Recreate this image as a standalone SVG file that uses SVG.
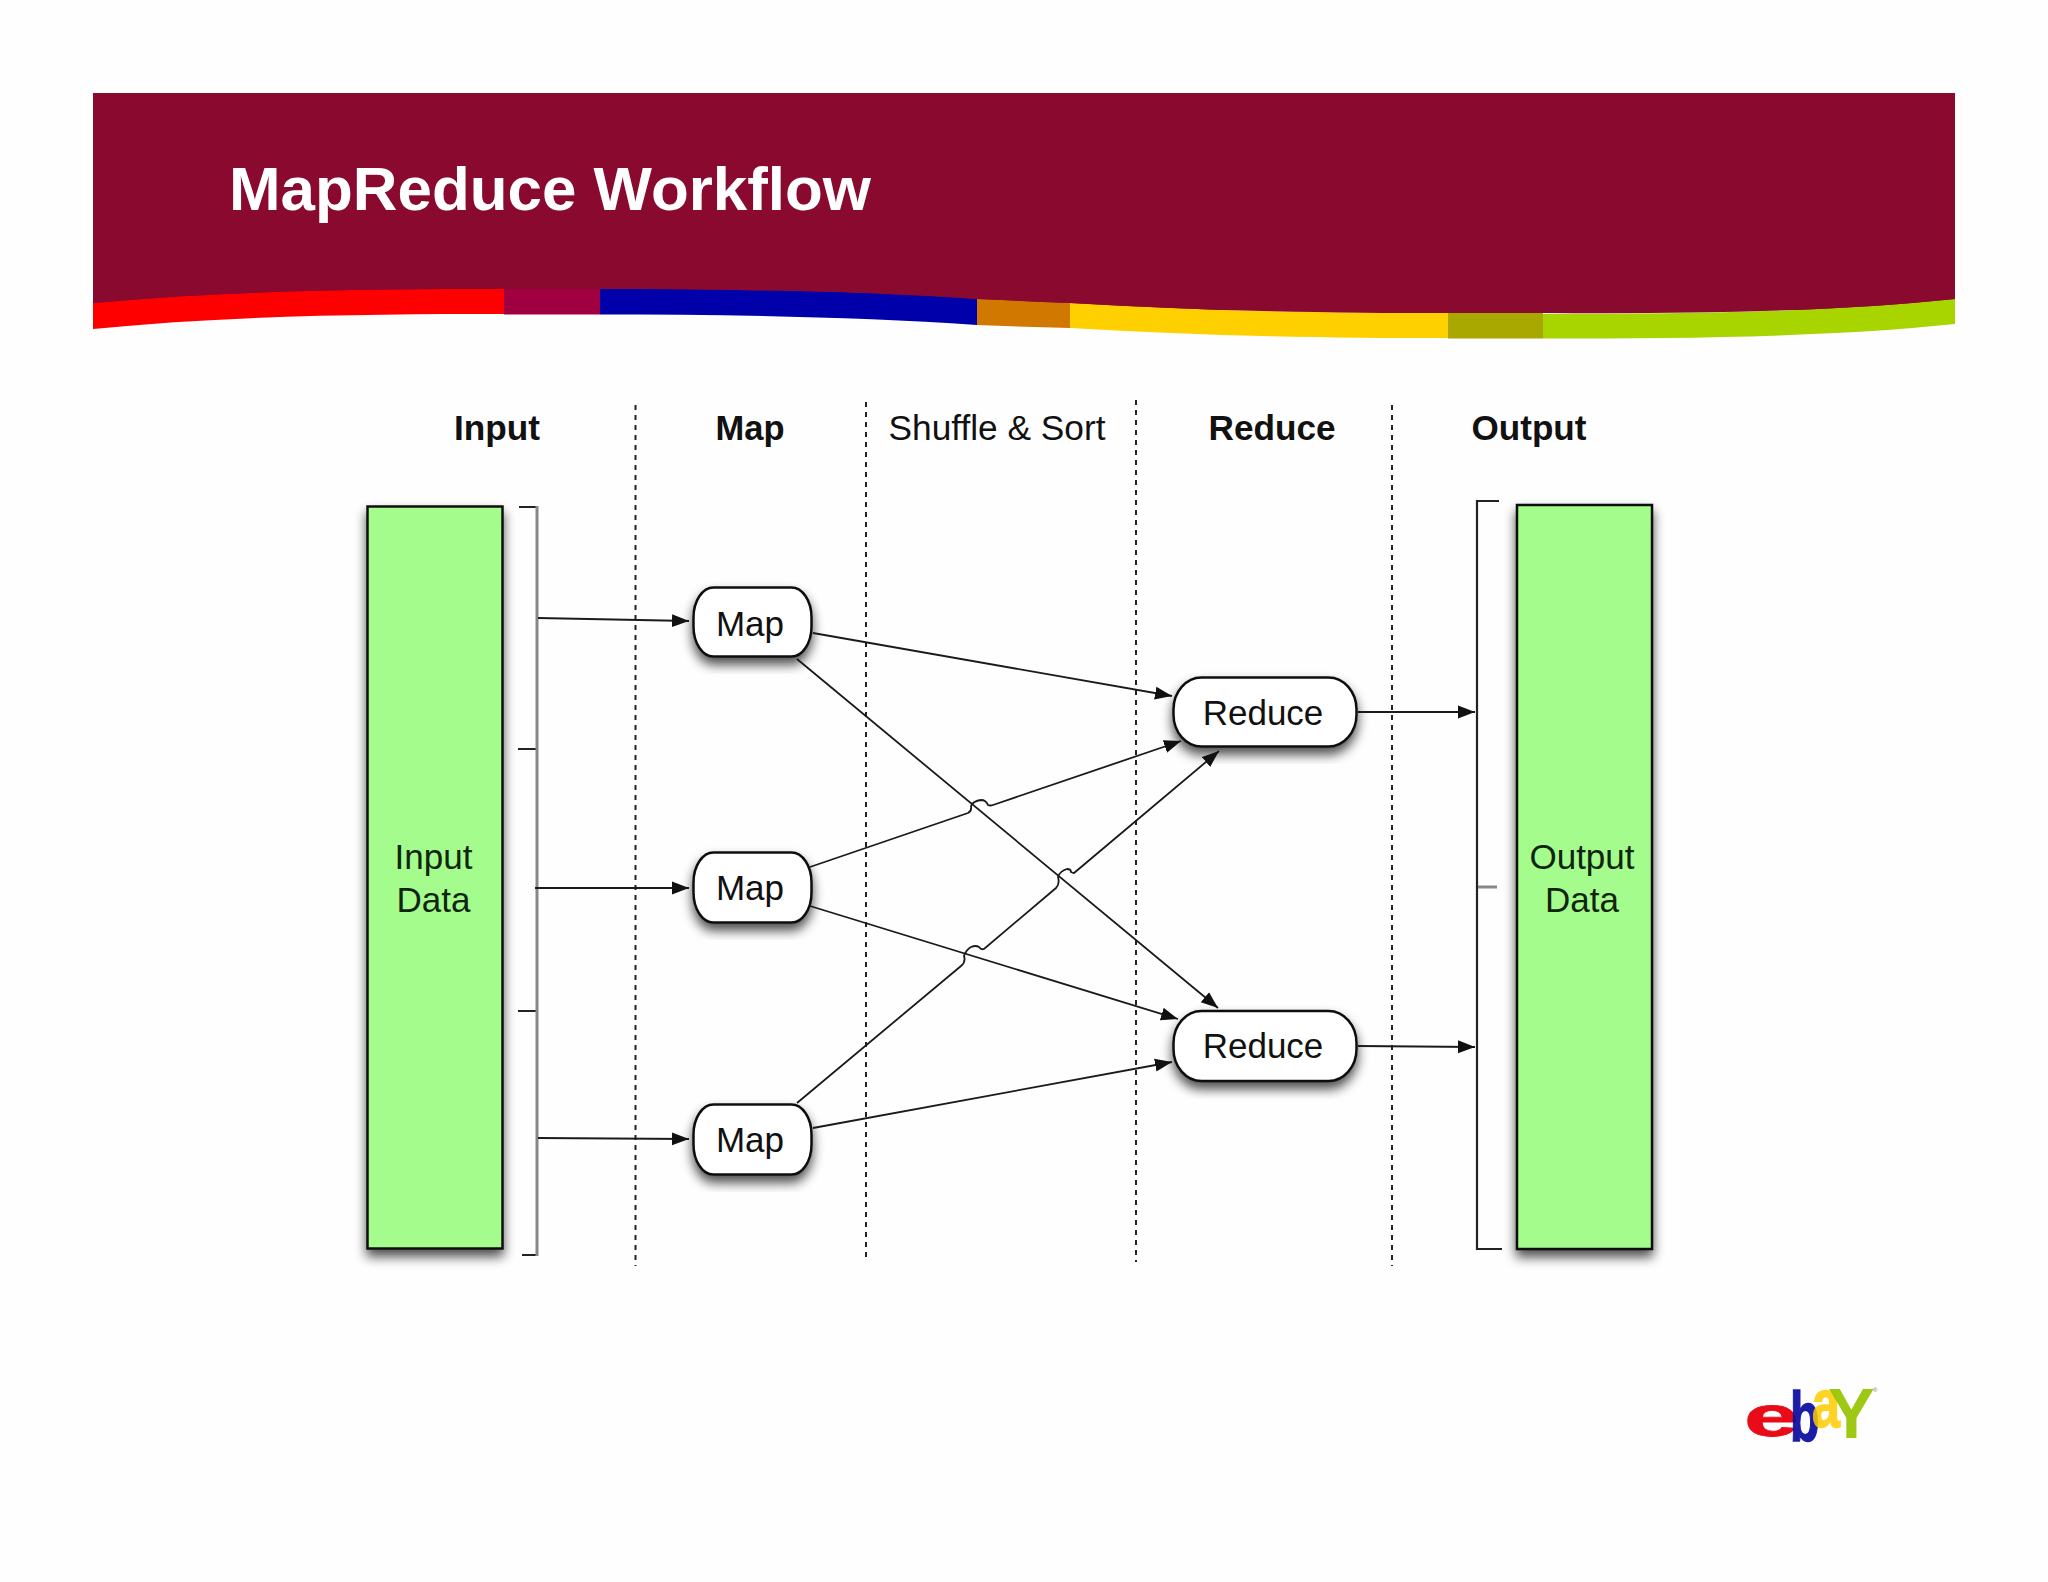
<svg xmlns="http://www.w3.org/2000/svg" width="2048" height="1582" viewBox="0 0 2048 1582">
<defs>
<style>
text{font-family:"Liberation Sans",Arial,sans-serif;fill:#111}
.h{font-size:34.8px;text-anchor:middle}
.b{font-weight:bold}
.n{font-size:35px;text-anchor:middle}
.box{fill:#a4fc8c;stroke:#111;stroke-width:2.5}
.pill{fill:#fff;stroke:#111;stroke-width:2.5}
.dg{fill:#102510}
.dot{fill:none;stroke:#222;stroke-width:2;stroke-dasharray:5 5}
.br{fill:none;stroke:#222;stroke-width:2.2}
.brg{fill:none;stroke:#888;stroke-width:3}
.c{fill:none;stroke:#1a1a1a;stroke-width:1.8;marker-end:url(#arr)}
.logo{font-weight:bold}
</style>
<marker id="arr" markerUnits="userSpaceOnUse" markerWidth="18" markerHeight="14" refX="17" refY="7" orient="auto"><path d="M0 .5L17 7L0 13.5z" fill="#111"/></marker>
<filter id="sh" x="-25%" y="-25%" width="150%" height="150%"><feGaussianBlur in="SourceAlpha" stdDeviation="6"/><feOffset dx="0" dy="7"/><feComponentTransfer><feFuncA type="linear" slope=".7"/></feComponentTransfer><feMerge><feMergeNode/><feMergeNode in="SourceGraphic"/></feMerge></filter>
</defs>
<rect width="2048" height="1582" fill="#fefefe"/>
<g id="banner">
<path d="M93 93H1955V310H93Z" fill="#8a092f"/>
<path d="M93 303C230 290 380 289 504 289V314C380 314 230 315 93 329Z" fill="#ff0000"/>
<path d="M504 289H600V314.500H504Z" fill="#a00040"/>
<path d="M600 289C730 289 860 291 977 299V325C860 317 730 314.500 600 314.500Z" fill="#0000aa"/>
<path d="M977 299Q1025 301 1070 303V328Q1025 327 977 325Z" fill="#d07800"/>
<path d="M1070 303C1200 311 1330 313 1448 313V338C1330 338 1200 336 1070 328Z" fill="#ffd000"/>
<path d="M1448 313H1543V338.500H1448Z" fill="#a8a800"/>
<path d="M1543 314C1690 314 1830 312 1955 299V324C1830 337 1690 338.500 1543 338.500Z" fill="#a8d400"/>
<path d="M93 303C230 290 380 289 504 289H600C730 289 860 291 977 299Q1025 301 1070 303C1200 311 1330 313 1448 313H1543C1690 314 1830 312 1955 299V280H93Z" fill="#8a092f"/>
<text x="229" y="210" style="fill:#fff;font-weight:bold;font-size:62px" textLength="642" lengthAdjust="spacingAndGlyphs">MapReduce Workflow</text>
</g>
<g id="headers">
<text class="h b" x="497" y="440" textLength="86" lengthAdjust="spacingAndGlyphs">Input</text>
<text class="h b" x="750" y="440" textLength="69" lengthAdjust="spacingAndGlyphs">Map</text>
<text class="h" x="997" y="440" textLength="217" lengthAdjust="spacingAndGlyphs">Shuffle &amp; Sort</text>
<text class="h b" x="1272" y="440" textLength="127" lengthAdjust="spacingAndGlyphs">Reduce</text>
<text class="h b" x="1529" y="440" textLength="115" lengthAdjust="spacingAndGlyphs">Output</text>
</g>
<g id="lanes">
<path class="dot" d="M635.500 405V1266"/>
<path class="dot" d="M866 402V1260"/>
<path class="dot" d="M1136 400V1262"/>
<path class="dot" d="M1392 405V1266"/>
</g>
<g id="input-data"><rect class="box" x="367.500" y="506.500" width="135" height="742" filter="url(#sh)"/>
<text class="n dg" x="433.500" y="869">Input</text><text class="n dg" x="433.500" y="912">Data</text></g>
<g id="output-data"><rect class="box" x="1517" y="505" width="135" height="744" filter="url(#sh)"/>
<text class="n dg" x="1582" y="869">Output</text><text class="n dg" x="1582" y="912">Data</text></g>
<g id="input-bracket">
<path class="br" d="M519 507H537M518 749H537M518 1011H537M522 1255H537"/>
<path class="brg" d="M537 506V1256"/>
</g>
<g id="output-bracket">
<path class="br" d="M1499 501H1477V1249H1502"/>
<path class="brg" d="M1478 887H1497" />
</g>
<g id="map1"><rect class="pill" x="693.500" y="587.500" width="118" height="69" rx="20" ry="30" filter="url(#sh)"/><text class="n" x="750" y="636">Map</text></g>
<g id="map2"><rect class="pill" x="693.500" y="852.500" width="118" height="70" rx="20" ry="30" filter="url(#sh)"/><text class="n" x="750" y="900">Map</text></g>
<g id="map3"><rect class="pill" x="693.500" y="1104.500" width="118" height="70" rx="20" ry="30" filter="url(#sh)"/><text class="n" x="750" y="1152">Map</text></g>
<g id="reduce1"><rect class="pill" x="1173.500" y="677.500" width="183" height="69" rx="28" ry="32" filter="url(#sh)"/><text class="n" x="1263" y="725">Reduce</text></g>
<g id="reduce2"><rect class="pill" x="1173.500" y="1011" width="183" height="70" rx="28" ry="32" filter="url(#sh)"/><text class="n" x="1263" y="1058">Reduce</text></g>
<g id="connectors">
<path class="c" d="M538 618L689 621"/>
<path class="c" d="M535 888H689"/>
<path class="c" d="M538 1138L689 1139"/>
<path class="c" d="M813 633L1172 696"/>
<path class="c" d="M797 659L1218 1008"/>
<path class="c" d="M810 867L968 813Q972 811 971 806Q973 801 981 800Q986 800 988 805Q990 806 993 805L1181 741"/>
<path class="c" d="M810 906L1178 1019"/>
<path class="c" d="M797 1103L961 966Q966 962 964 956Q966 950 971 947Q976 945 979 947Q981 950 984 949L1056 888Q1060 884 1058 877Q1060 871 1067 869Q1071 869 1071 872Q1073 873 1074 873L1219 751"/>
<path class="c" d="M813 1128L1172 1062"/>
<path class="c" d="M1358 712H1475"/>
<path class="c" d="M1358 1046L1475 1047"/>
</g>
<g id="ebay-logo">
<text class="logo" transform="translate(1744 1436) scale(1.7 1)" font-size="58" style="fill:#e8000c;stroke:#e8000c;stroke-width:.8;opacity:.95">e</text>
<text class="logo" transform="translate(1790 1441) scale(.68 1)" font-size="71" style="fill:#0a0ca0;stroke:#0a0ca0;stroke-width:1.5;opacity:.93">b</text>
<text class="logo" transform="translate(1812 1427) scale(.74 1)" font-size="68" style="fill:#ffcc00;stroke:#ffcc00;stroke-width:1.5;opacity:.85">a</text>
<text class="logo" transform="translate(1828 1438)" font-size="70" style="fill:#96c400;opacity:.92">Y</text>
<text x="1873" y="1392" font-size="6" style="fill:#777">®</text>
</g>
</svg>
